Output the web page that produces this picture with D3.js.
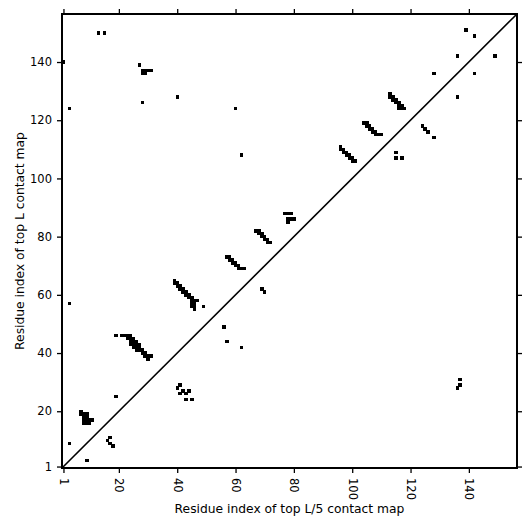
<!DOCTYPE html>
<html><head><meta charset="utf-8">
<script src="https://cdn.jsdelivr.net/npm/d3@7"></script>
<style>
html,body{margin:0;padding:0;background:#fff;}
svg{display:block;font-family:"DejaVu Sans",sans-serif;}
</style></head>
<body>
<svg id="chart" width="531" height="531"></svg>
<script>
// Sequence length and axis ticks
const seqLength = 156;
const tickValues = [1, 20, 40, 60, 80, 100, 120, 140];
const xLabel = "Residue index of top L/5 contact map";
const yLabel = "Residue index of top L contact map";

// Contacts above the diagonal (top L contact map): [x, y]
const topLContacts = [
  [1,140],[3,124],[3,57],[3,9],[13,150],[15,150],[27,139],
  [28,137],[29,137],[30,137],[31,137],[28,136],[29,136],
  [28,126],[40,128],[60,124],[62,108],
  [128,136],[136,142],[139,151],[142,149],
  [7,20],[7,19],[8,19],[9,19],[8,18],[9,18],[8,17],[9,17],[10,17],[11,17],[8,16],[9,16],[10,16],
  [19,25],[19,46],
  [21,46],[22,46],[23,46],[24,46],[23,45],[24,45],[25,45],[24,44],[25,44],[26,44],
  [24,43],[25,43],[26,43],[27,43],[25,42],[26,42],[27,42],[26,41],[27,41],[28,41],
  [28,40],[29,40],[29,39],[30,39],[31,39],[30,38],
  [39,65],[39,64],[40,64],[40,63],[41,63],[41,62],[42,62],[42,61],[43,61],[43,60],[44,60],
  [44,59],[45,59],[45,58],[46,58],[47,58],[46,57],[45,57],[45,56],[46,56],[46,55],[49,56],
  [57,73],[58,73],[58,72],[59,72],[59,71],[60,71],[60,70],[61,70],[61,69],[62,69],[63,69],
  [67,82],[68,82],[68,81],[69,81],[69,80],[70,80],[70,79],[71,79],[71,78],[72,78],
  [77,88],[78,88],[79,88],[78,86],[79,86],[80,86],[78,85],
  [96,111],[96,110],[97,110],[97,109],[98,109],[98,108],[99,108],[99,107],[100,107],[100,106],[101,106],
  [104,119],[105,119],[105,118],[106,118],[106,117],[107,117],[107,116],[108,116],[108,115],[109,115],[110,115],
  [113,129],[113,128],[114,128],[114,127],[115,127],[115,126],[116,126],[116,125],[117,125],[116,124],[117,124],[118,124]
];

// Contacts below the diagonal (top L/5 contact map): [x, y]
const topL5Contacts = [
  [9,3],[17,11],[16,10],[17,9],[18,8],
  [41,29],[40,28],[42,27],[41,26],[43,26],[44,27],[43,24],[45,24],
  [56,49],[57,44],[62,42],[69,62],[70,61],
  [115,109],[115,107],[117,107],
  [124,118],[125,117],[126,116],[128,114],
  [137,31],[137,29],[136,28],
  [136,128],[142,136],[149,142]
];

const margin = {left: 62, top: 14, right: 14, bottom: 63};
const W = 531 - margin.left - margin.right;   // 455
const H = 531 - margin.top - margin.bottom;   // 454

const svg = d3.select("#chart");
const g = svg.append("g").attr("transform", `translate(${margin.left},${margin.top})`);

const x = d3.scaleLinear().domain([0.5, seqLength + 0.5]).range([0, W]);
const y = d3.scaleLinear().domain([0.5, seqLength + 0.5]).range([H, 0]);

// contact cells
const allContacts = topLContacts.concat(topL5Contacts);
const pad = 0.25;
g.append("g").attr("shape-rendering", "crispEdges")
  .selectAll("rect").data(allContacts).join("rect")
  .attr("x", d => x(d[0] - 0.5) - pad)
  .attr("y", d => y(d[1] + 0.5) - pad)
  .attr("width", d => x(d[0] + 0.5) - x(d[0] - 0.5) + 2 * pad)
  .attr("height", d => y(d[1] - 0.5) - y(d[1] + 0.5) + 2 * pad)
  .attr("fill", "#000");

// diagonal
g.append("line")
  .attr("x1", x(0.5)).attr("y1", y(0.5))
  .attr("x2", x(seqLength + 0.5)).attr("y2", y(seqLength + 0.5))
  .attr("stroke", "#000").attr("stroke-width", 1.6);

// axes
const fontSize = 11.5;
const axB = g.append("g").attr("transform", `translate(0,${H})`)
  .call(d3.axisBottom(x).tickValues(tickValues).tickSize(5).tickSizeOuter(0).tickPadding(4));
axB.selectAll("text")
  .attr("font-size", fontSize).attr("font-family", "DejaVu Sans")
  .attr("transform", "rotate(90)")
  .attr("text-anchor", "start")
  .attr("dy", "0.35em").attr("dx", "0").attr("x", 10).attr("y", 0);

const axL = g.append("g")
  .call(d3.axisLeft(y).tickValues(tickValues).tickSize(5).tickSizeOuter(0).tickPadding(5));
axL.selectAll("text").attr("font-size", fontSize).attr("font-family", "DejaVu Sans");

const axT = g.append("g")
  .call(d3.axisTop(x).tickValues(tickValues).tickSize(5).tickSizeOuter(0).tickFormat(""));
const axR = g.append("g").attr("transform", `translate(${W},0)`)
  .call(d3.axisRight(y).tickValues(tickValues).tickSize(5).tickSizeOuter(0).tickFormat(""));

[axB, axL, axT, axR].forEach(a => {
  a.select(".domain").remove();
  a.selectAll(".tick line").attr("stroke", "#000").attr("stroke-width", 1.3);
  a.selectAll("text").attr("fill", "#000");
});

// frame
g.append("rect").attr("x", 0).attr("y", 0).attr("width", W).attr("height", H)
  .attr("fill", "none").attr("stroke", "#000").attr("stroke-width", 2);

// axis labels
svg.append("text")
  .attr("x", margin.left + W / 2).attr("y", 513)
  .attr("text-anchor", "middle").attr("font-size", 12.3)
  .text(xLabel);
svg.append("text")
  .attr("transform", `translate(24,${margin.top + H / 2}) rotate(-90)`)
  .attr("text-anchor", "middle").attr("font-size", 12.3)
  .text(yLabel);
</script>
</body></html>
